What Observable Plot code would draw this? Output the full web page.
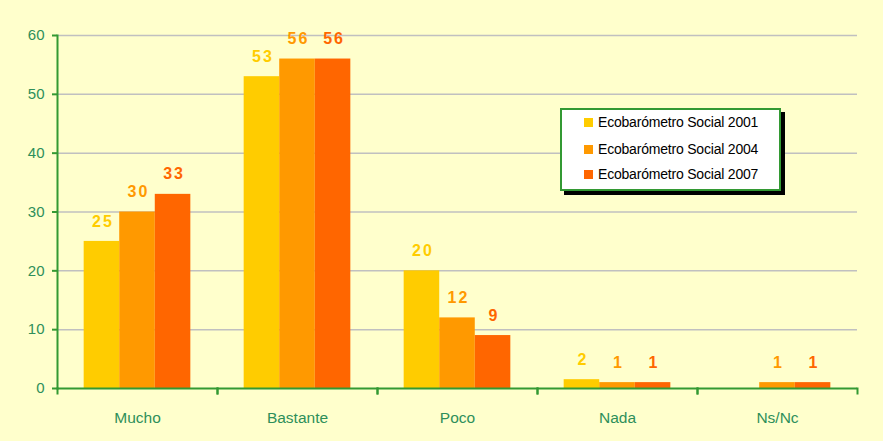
<!DOCTYPE html>
<html><head><meta charset="utf-8">
<script src="https://cdn.jsdelivr.net/npm/d3@7"></script>
<script src="https://cdn.jsdelivr.net/npm/@observablehq/plot@0.6"></script>
<style>
body{margin:0;background:#FFFFCC;}
#wrap{position:relative;width:883px;height:441px;}
#legend{position:absolute;left:560px;top:108px;width:217px;height:79px;background:#fff;border:2px solid #339933;box-shadow:4px 4px 0 #000;font:14px "Liberation Sans",Arial,sans-serif;color:#000;}
#legend .row{position:absolute;left:22px;height:14px;line-height:14px;white-space:nowrap;letter-spacing:-0.2px;}
#legend .sw{display:inline-block;width:9px;height:9px;margin-right:5px;vertical-align:0px;}
g.vlabel{letter-spacing:2px;}
</style>
</head><body>
<div id="wrap"><div id="chart"></div><div id="legend"></div></div>
<script>
const categories = ["Mucho", "Bastante", "Poco", "Nada", "Ns/Nc"];
const series = ["Ecobarómetro Social 2001", "Ecobarómetro Social 2004", "Ecobarómetro Social 2007"];
const v2001 = [25, 53, 20, 1.5, null];
const v2004 = [30, 56, 12, 1, 1];
const v2007 = [33, 56, 9, 1, 1];
const colors = ["#FFCC00", "#FF9900", "#FF6600"];
const yTicks = [0, 10, 20, 30, 40, 50, 60];

const seriesValues = [v2001, v2004, v2007];
const rows = [];
categories.forEach((c, i) => {
  series.forEach((s, j) => {
    const v = seriesValues[j][i];
    if (v != null) rows.push({cat: c, series: s, value: v});
  });
});

const green = "#339933";
const textGreen = "#2e8f5a";

const chart = Plot.plot({
  width: 883, height: 441,
  marginLeft: 55, marginRight: 24, marginTop: 35, marginBottom: 53,
  style: {background: "transparent", fontFamily: "'Liberation Sans', Arial, sans-serif"},
  fx: {domain: categories, padding: 0, label: null},
  x: {domain: series, paddingInner: 0, paddingOuter: 0.75, round: false, axis: null},
  y: {domain: [0, 60], label: null},
  color: {domain: series, range: colors},
  marks: [
    Plot.gridY(yTicks.filter(d => d > 0), {stroke: "#C0C0C0", strokeOpacity: 1, strokeWidth: 1.5}),
    Plot.barY(rows, {fx: "cat", x: "series", y: "value", fill: "series"}),
    Plot.text(rows, {fx: "cat", x: "series", y: "value", text: d => String(Math.round(d.value)), fill: "series", dy: -20, dx: 1, fontWeight: "bold", fontSize: 16, className: "vlabel"}),
    Plot.ruleY([0], {stroke: green, strokeWidth: 2}),
    Plot.frame({facet: "super", anchor: "left", stroke: green, strokeWidth: 2}),
    Plot.frame({anchor: "left", stroke: green, strokeWidth: 2, insetTop: 353, insetBottom: -5}),
    Plot.frame({anchor: "right", stroke: green, strokeWidth: 2, insetTop: 353, insetBottom: -5}),
    Plot.axisY(yTicks, {tickSize: 5, stroke: green, strokeWidth: 2, fill: textGreen, fontSize: 15, tickPadding: 8, label: null}),
    Plot.axisFx({anchor: "bottom", tickSize: 0, tickPadding: 23, fontSize: 15.5, fill: textGreen, label: null})
  ]
});
document.getElementById("chart").appendChild(chart);

const legend = document.getElementById("legend");
const rowTops = [5, 32, 57];
series.forEach((s, j) => {
  const r = document.createElement("div");
  r.className = "row";
  r.style.top = rowTops[j] + "px";
  const sw = document.createElement("span");
  sw.className = "sw";
  sw.style.background = colors[j];
  r.appendChild(sw);
  r.appendChild(document.createTextNode(s));
  legend.appendChild(r);
});
</script>
</body></html>
